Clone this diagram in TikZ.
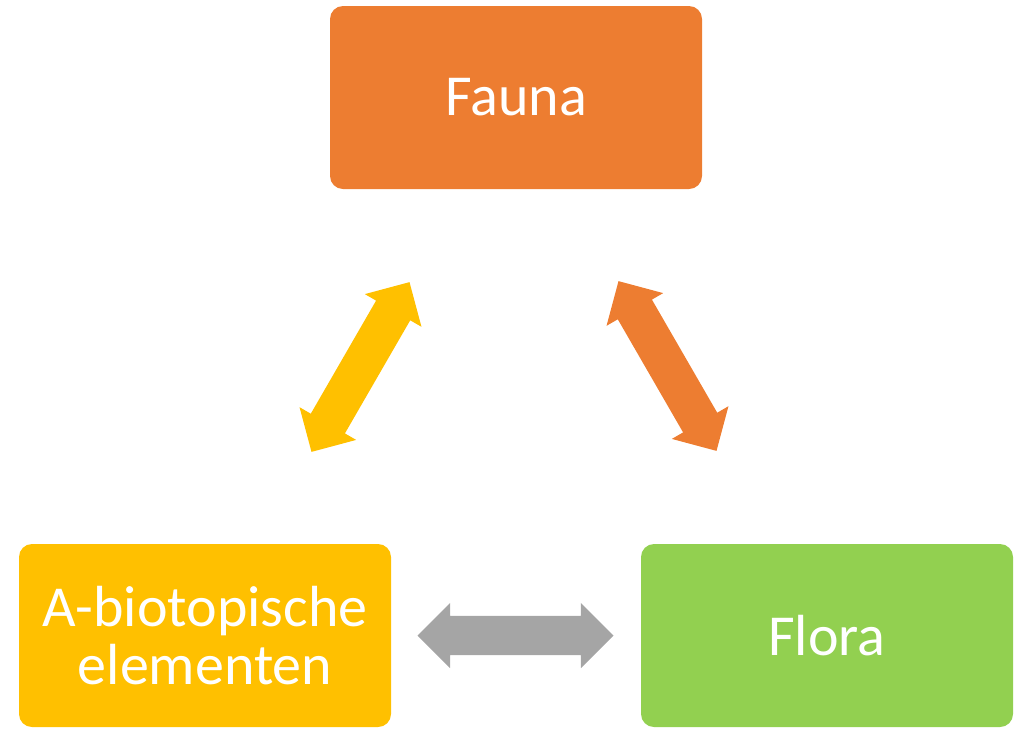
\documentclass[tikz,border=0pt]{standalone}
\usepackage{fontspec}
\setmainfont{Carlito}
\usetikzlibrary{shapes.arrows}
\definecolor{cOrange}{HTML}{ED7D31}
\definecolor{cYellow}{HTML}{FFC000}
\definecolor{cGreen}{HTML}{92D050}
\definecolor{cGray}{HTML}{A5A5A5}
\begin{document}
\begin{tikzpicture}[x=1pt,y=-1pt,
  box/.style={rounded corners=13pt, minimum width=372pt, minimum height=183pt,
    inner sep=0pt, text=white, align=center, font=\fontsize{58}{58}\selectfont},
  dblarrow/.style={double arrow, double arrow head extend=13pt, double arrow tip angle=90,
    minimum height=196pt, inner sep=19.5pt, outer sep=0pt, draw=none}]
\useasboundingbox (0,0) rectangle (1030,732);
\node[box, fill=cOrange] (fauna) at (516,97.5) {Fauna};
\node[box, fill=cYellow] (abio) at (205,635.5) {A-biotopische\\elementen};
\node[box, fill=cGreen] (flora) at (827,635.5) {Flora};
\node[dblarrow, fill=cYellow, rotate=60] (a1) at (360.5,367) {};
\node[dblarrow, fill=cOrange, rotate=-60] (a2) at (667.5,366) {};
\node[dblarrow, fill=cGray] (a3) at (515.5,635.5) {};
\end{tikzpicture}
\end{document}
